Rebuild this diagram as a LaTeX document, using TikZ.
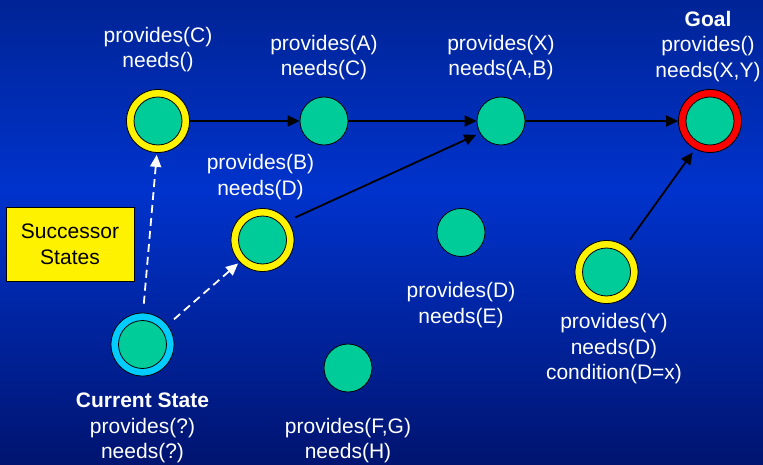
\documentclass[tikz,border=0pt]{standalone}
\usepackage{fontspec}
\setmainfont{Liberation Sans}
\usepackage{tikz}
\usetikzlibrary{arrows.meta}
\usetikzlibrary{positioning}

\definecolor{bgtop}{RGB}{0,36,150}
\definecolor{bgmid}{RGB}{0,51,204}
\definecolor{bgbot}{RGB}{0,20,112}
\definecolor{stategreen}{RGB}{0,204,153}
\definecolor{curcyan}{RGB}{0,204,255}

\begin{document}
\begin{tikzpicture}[x=1pt,y=1pt,
    font=\fontsize{21}{25.5}\selectfont,
    state/.style={shape=circle,
      draw=black,
      fill=stategreen,
      line width=0.8pt,
      inner sep=0pt,
      minimum size=48pt},
    ring/.style={shape=circle,
      draw=black,
      fill=#1,
      line width=0.8pt,
      inner sep=0pt,
      minimum size=63pt,
      path picture={\draw[fill=stategreen,line width=0.8pt]
        (path picture bounding box.center) circle (24pt);}},
    lbl/.style={text=white,
      align=center,
      inner sep=0pt},
    flow/.style={line width=1.8pt,
      -{Triangle[length=12pt,width=11pt]}},
    jump/.style={flow,
      draw=white,
      dash pattern=on 8pt off 5pt}]

    % background
    \shade[top color=bgtop,bottom color=bgmid] (0,0) rectangle (763,-190);
    \shade[top color=bgmid,bottom color=bgbot] (0,-190) rectangle (763,-465);

    \node[name=cprov, ring=yellow] at (158,-121) {};
    \node[name=aprov, state] at (324,-121) {};
    \node[name=xprov, state] at (501,-121) {};
    \node[name=goal, ring=red] at (710,-121) {};
    \node[name=bprov, ring=yellow] at (262.5,-240) {};
    \node[name=dprov, state] at (461,-232.5) {};
    \node[name=yprov, ring=yellow] at (606.5,-272) {};
    \node[name=current, ring=curcyan] at (142.5,-344.5) {};
    \node[name=fgprov, state] at (348,-368) {};

    \node[name=succ,
      shape=rectangle,
      draw=black,
      fill=yellow,
      line width=1pt,
      minimum width=128pt,
      minimum height=73pt,
      align=center] at (70,-244.5) {Successor\\States};

    \node[name=clbl, lbl, above=17pt of cprov] {provides(C)\\needs()};
    \node[name=albl, lbl, above=16.5pt of aprov] {provides(A)\\needs(C)};
    \node[name=xlbl, lbl, above=16.5pt of xprov] {provides(X)\\needs(A,B)};
    \node[name=goallbl, lbl, above=7.5pt of goal, xshift=-2pt]
      {\textbf{Goal}\\provides()\\needs(X,Y)};
    \node[name=blbl, lbl, above=8.5pt of bprov, xshift=-2pt] {provides(B)\\needs(D)};
    \node[name=dlbl, lbl, below=25.5pt of dprov] {provides(D)\\needs(E)};
    \node[name=ylbl, lbl, below=9.5pt of yprov, xshift=7.5pt]
      {provides(Y)\\needs(D)\\condition(D=x)};
    \node[name=curlbl, lbl, below=16.5pt of current]
      {\textbf{Current State}\\provides(?)\\needs(?)};
    \node[name=fglbl, lbl, below=25.5pt of fgprov] {provides(F,G)\\needs(H)};

    \path (cprov) edge[flow] (aprov);
    \path (aprov) edge[flow] (xprov);
    \path (xprov) edge[flow] (goal);
    \path (bprov.37) edge[flow, shorten <=8pt, shorten >=4pt] (xprov.210);
    \path (yprov.54) edge[flow, shorten <=8pt, shorten >=4pt] (goal.242);
    \path (current.89) edge[jump, shorten <=9pt, shorten >=2pt] (cprov.268);
    \path (current.38) edge[jump, shorten <=8.5pt, shorten >=2pt] (bprov.224);

    \path [use as bounding box] (0,0) rectangle (763,-465);

  \end{tikzpicture}
\end{document}
